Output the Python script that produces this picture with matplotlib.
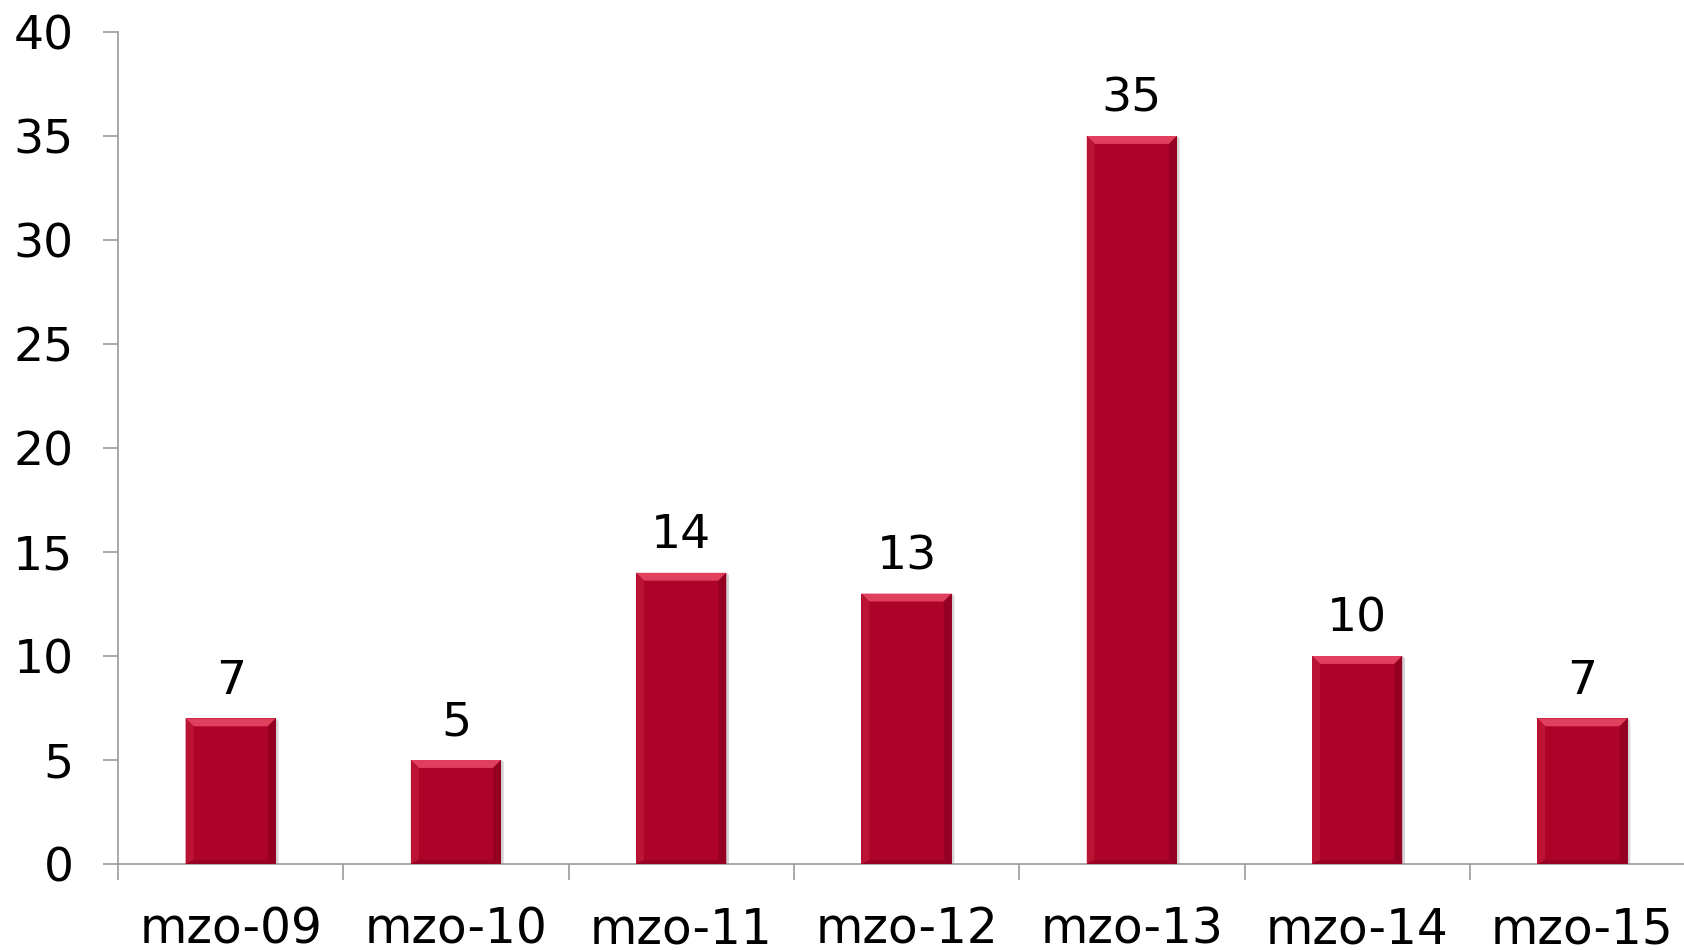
import matplotlib
matplotlib.use("Agg")
import matplotlib.pyplot as plt
from matplotlib.patches import Polygon

categories = ["mzo-09", "mzo-10", "mzo-11", "mzo-12", "mzo-13", "mzo-14", "mzo-15"]
values = [7, 5, 14, 13, 35, 10, 7]
y_ticks = [0, 5, 10, 15, 20, 25, 30, 35, 40]

plt.rcParams['font.family'] = ['DejaVu Sans']
fig = plt.figure(figsize=(16.84, 9.5), dpi=100)
ax = fig.add_axes([118/1684, 86/950, 7*225.3/1684, 832/950])

bar_color = "#AD0328"
width = 0.4
x = list(range(len(categories)))
bars = ax.bar(x, values, width=width, color=bar_color, edgecolor="none", zorder=3)

# bevel effect
bev_x = 0.035  # data units horizontally
bev_y = 0.38   # data units vertically
for xi, v in zip(x, values):
    l, r = xi - width/2, xi + width/2
    # shadow
    ax.add_patch(Polygon([(r, 0), (r + 0.012, 0), (r + 0.012, v - 0.1), (r, v)],
                         closed=True, facecolor="#d4d4d4", edgecolor="none", zorder=2))
    # top highlight
    ax.add_patch(Polygon([(l, v), (r, v), (r - bev_x, v - bev_y), (l + bev_x, v - bev_y)],
                         closed=True, facecolor="#E0405E", edgecolor="none", zorder=4))
    # left side
    ax.add_patch(Polygon([(l, v), (l + bev_x, v - bev_y), (l + bev_x, bev_y * 0.5), (l, 0)],
                         closed=True, facecolor="#BA1333", edgecolor="none", zorder=4))
    # right side
    ax.add_patch(Polygon([(r, v), (r - bev_x, v - bev_y), (r - bev_x, bev_y * 0.5), (r, 0)],
                         closed=True, facecolor="#930022", edgecolor="none", zorder=4))
    # bottom
    ax.add_patch(Polygon([(l, 0), (r, 0), (r - bev_x, bev_y * 0.5), (l + bev_x, bev_y * 0.5)],
                         closed=True, facecolor="#980024", edgecolor="none", zorder=4))
    ax.text(xi, v + 0.7, str(v), ha="center", va="bottom", fontsize=34, color="black", zorder=5)

ax.set_xlim(-0.5, len(categories) - 0.5)
ax.set_ylim(0, 40)
ax.set_yticks(y_ticks)
ax.set_yticklabels([str(t) for t in y_ticks], fontsize=34)

ax.set_xticks([i - 0.5 for i in range(len(categories) + 1)])
ax.set_xticklabels([])
ax.set_xticks(x, minor=True)
ax.set_xticklabels(categories, minor=True, fontsize=35)
ax.tick_params(axis="x", which="major", length=11.5, width=1.2, color="#999999", direction="out")
ax.tick_params(axis="x", which="minor", length=0, pad=30)
ax.tick_params(axis="y", length=11, width=1.2, color="#999999", direction="out", pad=21)

for s in ["top", "right"]:
    ax.spines[s].set_visible(False)
for s in ["left", "bottom"]:
    ax.spines[s].set_color("#999999")
    ax.spines[s].set_linewidth(1.2)
ax.set_axisbelow(False)

fig.savefig("out.png", dpi=100)
